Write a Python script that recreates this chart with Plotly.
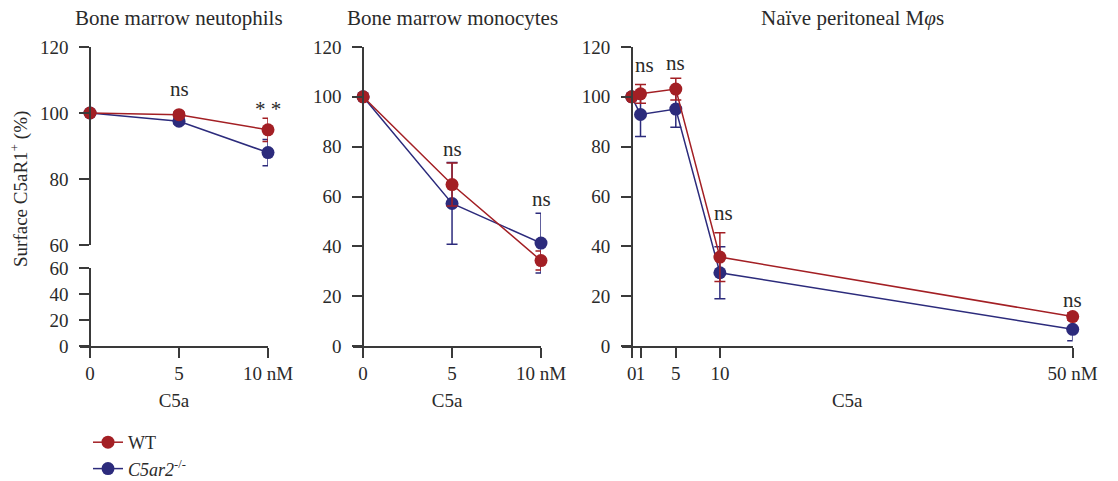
import plotly.graph_objects as go

# C5a concentrations (nM)
conc_bm = [0, 5, 10]
conc_pm = [0, 1, 5, 10, 50]

# Bone marrow neutrophils (% surface C5aR1+)
neut_wt = [100, 99.5, 94.9]
neut_wt_err = [0, 0.8, 3.5]
neut_ko = [100, 97.5, 88.0]
neut_ko_err = [0, 0.8, 4.0]

# Bone marrow monocytes
mono_wt = [100, 64.8, 34.3]
mono_wt_err = [0, 8.6, 3.8]
mono_ko = [100, 57.2, 41.3]
mono_ko_err = [0, 16.4, 12.0]

# Naive peritoneal macrophages
pm_wt = [100, 101.2, 103.1, 35.7, 11.8]
pm_wt_err = [0, 3.8, 4.4, 9.8, 1.5]
pm_ko = [100, 92.9, 95.1, 29.4, 6.7]
pm_ko_err = [0, 8.8, 7.3, 10.4, 4.6]

bm_ticktext = ["0", "5", "10 nM"]
pm_ticktext = ["0", "1", "5", "10", "50 nM"]

# significance labels: (xaxis, yaxis, x, y, text)
sig_labels = [
    ("x", "y2", 5, 107.3, "ns"),
    ("x", "y2", 10, 101.2, "* *"),
    ("x2", "y3", 5, 79.2, "ns"),
    ("x2", "y3", 10, 59.0, "ns"),
    ("x3", "y4", 1.45, 112.8, "ns"),
    ("x3", "y4", 5, 113.6, "ns"),
    ("x3", "y4", 10.4, 53.4, "ns"),
    ("x3", "y4", 50, 18.5, "ns"),
]

RED = "#a31f24"
BLUE = "#2c2b7c"
AX = "#3a3a3a"
TXT = "#2a2a2a"
FONT = "Liberation Serif"
FS = 19
FS_TITLE = 21
W, H = 1118, 481


def px_x(p):
    return p / W


def px_y(p):
    return 1 - p / H


fig = go.Figure()

panels = [
    ("x", "y2", conc_bm, neut_wt, neut_wt_err, neut_ko, neut_ko_err, True),
    ("x2", "y3", conc_bm, mono_wt, mono_wt_err, mono_ko, mono_ko_err, False),
    ("x3", "y4", conc_pm, pm_wt, pm_wt_err, pm_ko, pm_ko_err, False),
]

# lower segment of the broken neutrophil axis (holds no visible points)
fig.add_trace(go.Scatter(
    x=conc_bm, y=[None] * len(conc_bm), xaxis="x", yaxis="y",
    mode="markers", showlegend=False, hoverinfo="skip",
))

for xa, ya, xs, wt, wt_e, ko, ko_e, show in panels:
    fig.add_trace(go.Scatter(
        x=xs, y=ko, xaxis=xa, yaxis=ya, mode="lines+markers",
        name="<i>C5ar2</i><sup>-/-</sup>", legendrank=2, showlegend=show,
        line=dict(color=BLUE, width=1.5),
        marker=dict(color=BLUE, size=13),
        error_y=dict(type="data", array=ko_e, color=BLUE, thickness=1.5, width=5.5),
        cliponaxis=False,
    ))
    fig.add_trace(go.Scatter(
        x=xs, y=wt, xaxis=xa, yaxis=ya, mode="lines+markers",
        name="WT", legendrank=1, showlegend=show,
        line=dict(color=RED, width=1.5),
        marker=dict(color=RED, size=13),
        error_y=dict(type="data", array=wt_e, color=RED, thickness=1.5, width=5.5),
        cliponaxis=False,
    ))

common_axis = dict(
    showline=True, linecolor=AX, linewidth=1.5, ticks="outside", ticklen=10,
    tickwidth=1.5, tickcolor=AX, showgrid=False, zeroline=False,
    tickfont=dict(family=FONT, size=FS, color=TXT), automargin=False,
)
xcommon = dict(common_axis, tickangle=0, ticklabelstandoff=-1)
ycommon = dict(common_axis, ticklabelstandoff=7)

xtitle = dict(text="C5a", font=dict(family=FONT, size=FS, color=TXT), standoff=11)

fig.update_layout(
    width=W, height=H,
    margin=dict(l=0, r=0, t=0, b=0, autoexpand=False),
    paper_bgcolor="white", plot_bgcolor="white",
    font=dict(family=FONT, size=FS, color=TXT),
    showlegend=True,
    legend=dict(
        x=px_x(88), y=px_y(424), xanchor="left", yanchor="top",
        bgcolor="rgba(0,0,0,0)", font=dict(family=FONT, size=18),
        tracegroupgap=0, itemwidth=30,
    ),
    # panel 1: broken y-axis (bottom 0-60, top 60-120)
    xaxis=dict(xcommon, domain=[px_x(80), px_x(268)], range=[-0.562, 10],
               anchor="y", tickvals=conc_bm, ticktext=bm_ticktext, title=xtitle),
    yaxis=dict(ycommon, domain=[px_y(346), px_y(268)], range=[0, 60],
               anchor="free", position=px_x(90), tickvals=[0, 20, 40, 60]),
    yaxis2=dict(ycommon, domain=[px_y(245), px_y(47)], range=[60, 120],
                anchor="free", position=px_x(90), tickvals=[60, 80, 100, 120]),
    # panel 2
    xaxis2=dict(xcommon, domain=[px_x(353.3), px_x(541)], range=[-0.55, 10],
                anchor="y3", tickvals=conc_bm, ticktext=bm_ticktext, title=xtitle),
    yaxis3=dict(ycommon, domain=[px_y(346), px_y(47)], range=[0, 120],
                anchor="free", position=px_x(363), tickvals=[0, 20, 40, 60, 80, 100, 120]),
    # panel 3
    xaxis3=dict(xcommon, domain=[px_x(621.7), px_x(1072.7)], range=[-1.134, 50],
                anchor="y4", tickvals=conc_pm, ticktext=pm_ticktext, title=xtitle),
    yaxis4=dict(ycommon, domain=[px_y(346), px_y(47)], range=[0, 120],
                anchor="free", position=px_x(631.7), tickvals=[0, 20, 40, 60, 80, 100, 120]),
)

annotations = []
for xa, ya, x, y, text in sig_labels:
    annotations.append(dict(
        xref=xa, yref=ya, x=x, y=y, text=text, showarrow=False,
        font=dict(family=FONT, size=FS_TITLE, color=TXT),
        xanchor="center", yanchor="middle",
    ))

panel_titles = [
    (179, "Bone marrow neutophils"),
    (452, "Bone marrow monocytes"),
    (852, "Naïve peritoneal M<i>φ</i>s"),
]
for cx, text in panel_titles:
    annotations.append(dict(
        xref="paper", yref="paper", x=px_x(cx), y=px_y(18), text=text,
        showarrow=False, xanchor="center", yanchor="middle",
        font=dict(family=FONT, size=FS_TITLE, color=TXT),
    ))

annotations.append(dict(
    xref="paper", yref="paper", x=px_x(20), y=px_y(189),
    text="Surface C5aR1<sup>+</sup> (%)", textangle=-90, showarrow=False,
    xanchor="center", yanchor="middle",
    font=dict(family=FONT, size=FS, color=TXT),
))

fig.update_layout(annotations=annotations)

fig.write_html("out.html")
